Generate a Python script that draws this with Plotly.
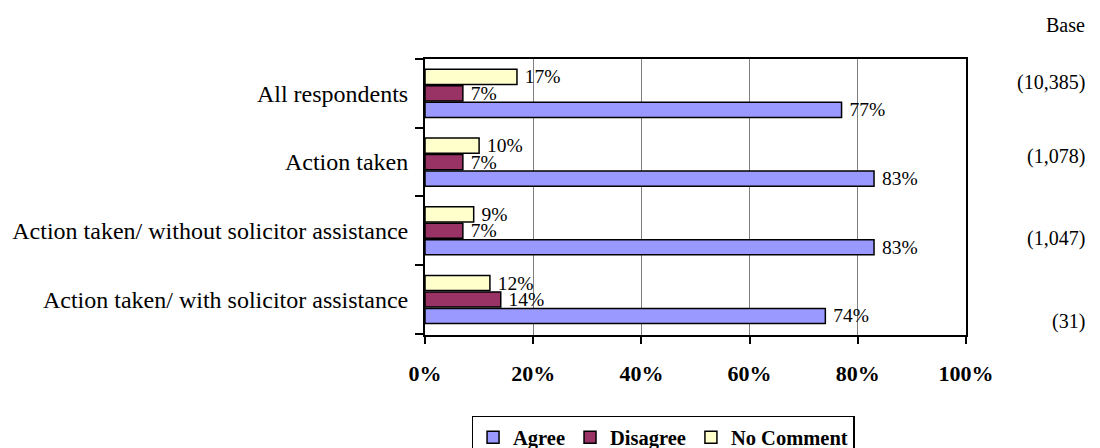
import plotly.graph_objects as go

categories = [
    "All respondents",
    "Action taken",
    "Action taken/ without solicitor assistance",
    "Action taken/ with solicitor assistance",
]
agree = [77, 83, 83, 74]
disagree = [7, 7, 7, 14]
no_comment = [17, 10, 9, 12]
bases = ["(10,385)", "(1,078)", "(1,047)", "(31)"]
x_ticks = [0, 20, 40, 60, 80, 100]
x_tick_labels = ["0%", "20%", "40%", "60%", "80%", "100%"]

FONT = "Liberation Serif"

series = [
    ("Agree", agree, "#9999FF"),
    ("Disagree", disagree, "#993366"),
    ("No Comment", no_comment, "#FFFFCC"),
]

fig = go.Figure()
for name, vals, color in series:
    fig.add_trace(go.Bar(
        y=categories, x=vals, name=name, orientation="h",
        marker=dict(color=color, line=dict(color="black", width=1.5)),
        text=[f" {v}%" for v in vals], textposition="outside",
        textfont=dict(family=FONT, size=19.5, color="black"),
        constraintext="none", cliponaxis=False,
    ))

base_shifts = [11, 6, -8, -22]
for cat, b, s in zip(categories, bases, base_shifts):
    fig.add_annotation(x=1.223, xref="paper", y=cat, yref="y", yshift=s,
                       text=b, showarrow=False, xanchor="right",
                       font=dict(family=FONT, size=20, color="black"))
fig.add_annotation(x=1.223, xref="paper", y=1.123, yref="paper",
                   text="Base", showarrow=False, xanchor="right", yanchor="middle",
                   font=dict(family=FONT, size=20, color="black"))

fig.update_layout(
    width=1100, height=448,
    margin=dict(l=417, r=142, t=51, b=121, autoexpand=False),
    paper_bgcolor="white", plot_bgcolor="white",
    barmode="group", bargap=0.28, bargroupgap=0.08,
    font=dict(family=FONT, color="black"),
    showlegend=True,
    legend=dict(orientation="h", x=0.44, xanchor="center", y=-0.293, yanchor="top",
                bordercolor="black", borderwidth=1.5,
                font=dict(family=FONT, size=20.5, color="black", weight="bold"),
                traceorder="normal", itemwidth=30),
)
fig.update_xaxes(
    range=[0, 100], tickvals=x_ticks, ticktext=x_tick_labels,
    showgrid=True, gridcolor="#808080", gridwidth=1,
    showline=True, linecolor="black", linewidth=2, mirror=True,
    ticks="outside", ticklen=7, tickwidth=2, tickcolor="black",
    tickfont=dict(family=FONT, size=22, color="black", weight="bold"),
    ticklabelstandoff=11, zeroline=False,
)
fig.update_yaxes(
    categoryorder="array", categoryarray=list(reversed(categories)),
    showline=True, linecolor="black", linewidth=2, mirror=True,
    ticks="outside", tickson="boundaries", ticklen=8, tickwidth=2, tickcolor="black",
    tickfont=dict(family=FONT, size=24, color="black"),
    showgrid=False, ticklabelstandoff=10,
)

fig.write_html("out.html")
